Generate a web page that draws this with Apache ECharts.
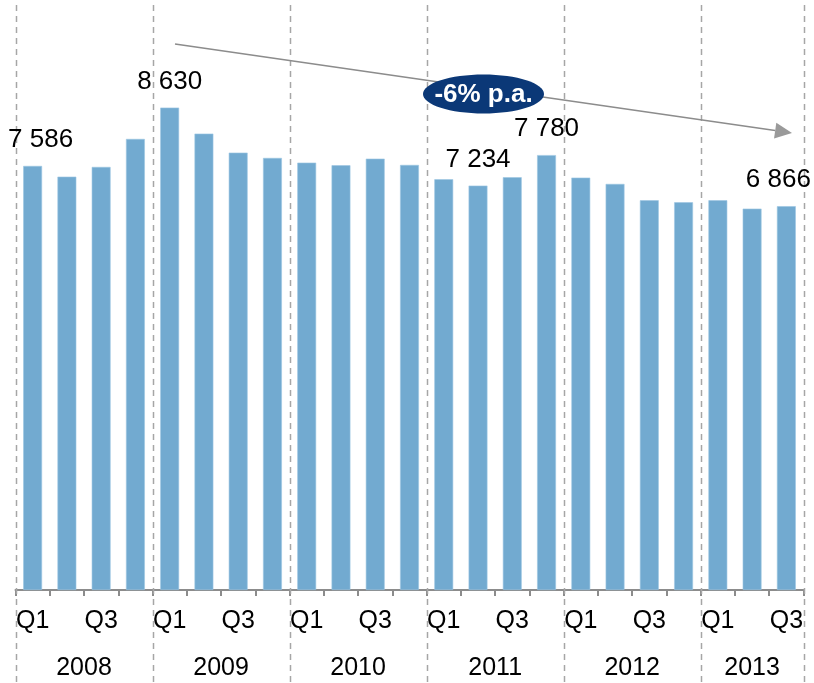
<!DOCTYPE html>
<html>
<head>
<meta charset="utf-8">
<script src="https://cdn.jsdelivr.net/npm/echarts@6/dist/echarts.min.js"></script>
<style>html,body{margin:0;padding:0;background:#fff}#c{width:814px;height:683px}</style>
</head>
<body>
<div id="c"></div>
<script>
const years = ['2008', '2009', '2010', '2011', '2012', '2013'];
const quartersPerYear = [4, 4, 4, 4, 4, 3];
const quarterNames = ['Q1', 'Q2', 'Q3', 'Q4'];
const values = [
  7586, 7394, 7568, 8069,
  8630, 8164, 7824, 7729,
  7645, 7598, 7716, 7604,
  7348, 7234, 7384, 7780,
  7377, 7264, 6972, 6936,
  6972, 6822, 6866
];
const labeledIndices = [0, 4, 13, 15, 22];
const shownQuarterLabels = ['Q1', 'Q3'];
const trendText = '-6% p.a.';

const FONT = '"Liberation Sans", Arial, sans-serif';

// build categories
const categories = [];
years.forEach((y, i) => {
  for (let q = 0; q < quartersPerYear[i]; q++) categories.push(y + ' ' + quarterNames[q]);
});
// year centers & boundaries in category index units
const yearCenters = [], yearBounds = [-0.5];
let start = 0;
quartersPerYear.forEach(n => {
  yearCenters.push(start + (n - 1) / 2);
  start += n;
  yearBounds.push(start - 0.5);
});

function fmt(v) { return String(v).replace(/\B(?=(\d{3})+(?!\d))/g, ' '); }

const barData = values.map((v, i) => {
  const item = { value: v };
  if (labeledIndices.includes(i)) {
    let off = [0, 0];
    if (i === 0) off = [8, 0];
    if (i === values.length - 1) off = [-8, 0];
    item.label = { show: true, offset: off };
  }
  return item;
});

const chart = echarts.init(document.getElementById('c'));
chart.setOption({
  animation: false,
  grid: { left: 15.5, right: 10.5, top: 31, bottom: 93 },
  xAxis: [{
    type: 'category',
    data: categories,
    boundaryGap: true,
    axisLine: { lineStyle: { color: '#8c8c8c', width: 2 } },
    axisTick: { show: true, interval: 0, length: 6, lineStyle: { color: '#8c8c8c', width: 2 } },
    axisLabel: {
      interval: 0, margin: 19, color: '#000', fontSize: 25, fontFamily: FONT,
      formatter: v => { const q = v.split(' ')[1]; return shownQuarterLabels.includes(q) ? q : ''; }
    },
    splitLine: { show: false }
  }, {
    type: 'value',
    position: 'bottom',
    offset: 0,
    min: -0.5, max: categories.length - 0.5,
    axisLine: { show: false },
    axisTick: { show: false },
    splitLine: { show: false },
    axisLabel: {
      customValues: yearCenters,
      margin: 66, color: '#000', fontSize: 25, fontFamily: FONT,
      showMinLabel: true, showMaxLabel: true,
      formatter: v => { const k = yearCenters.indexOf(v); return k >= 0 ? years[k] : ''; }
    }
  }],
  yAxis: { type: 'value', min: 0, max: 10000, show: false, splitLine: { show: false } },
  series: [{
    type: 'bar',
    xAxisIndex: 0,
    data: barData,
    barWidth: '55%',
    itemStyle: { color: '#72AAD0', borderColor: '#9cc6e2', borderWidth: 0.6 },
    label: {
      show: false, position: 'top', distance: 13, color: '#000', fontSize: 26, fontFamily: FONT,
      formatter: p => fmt(p.value)
    }
  }]
});

// annotations and year separators
const seps = yearBounds.map(b => {
  const x = Math.round(chart.convertToPixel({ xAxisIndex: 1 }, b)) + 0.5;
  return {
    type: 'line', silent: true, z: 1,
    shape: { x1: x, y1: 5, x2: x, y2: 683 },
    style: { stroke: '#a6a6a6', lineWidth: 1.5, lineDash: [6, 5] }
  };
});
const ax = 175, ay = 44, tx = 792, ty = 133;
const ang = Math.atan2(ty - ay, tx - ax);
const hl = 17, hw = 8;
const bx = tx - hl * Math.cos(ang), by = ty - hl * Math.sin(ang);
const px = -Math.sin(ang) * hw, py = Math.cos(ang) * hw;
chart.setOption({
  graphic: seps.concat([
    { type: 'line', silent: true, z: 10, shape: { x1: ax, y1: ay, x2: bx, y2: by }, style: { stroke: '#8c8c8c', lineWidth: 1.5 } },
    { type: 'polygon', silent: true, z: 10, shape: { points: [[tx, ty], [bx + px, by + py], [bx - px, by - py]] }, style: { fill: '#9a9a9a' } },
    { type: 'ellipse', silent: true, z: 11, shape: { cx: 483.5, cy: 94, rx: 60.5, ry: 19.5 }, style: { fill: '#0B3877' } },
    { type: 'text', silent: true, z: 12, x: 483.5, y: 95, style: { text: trendText, fill: '#fff', font: 'bold 26px ' + FONT, align: 'center', verticalAlign: 'middle' } }
  ])
});
</script>
</body>
</html>
